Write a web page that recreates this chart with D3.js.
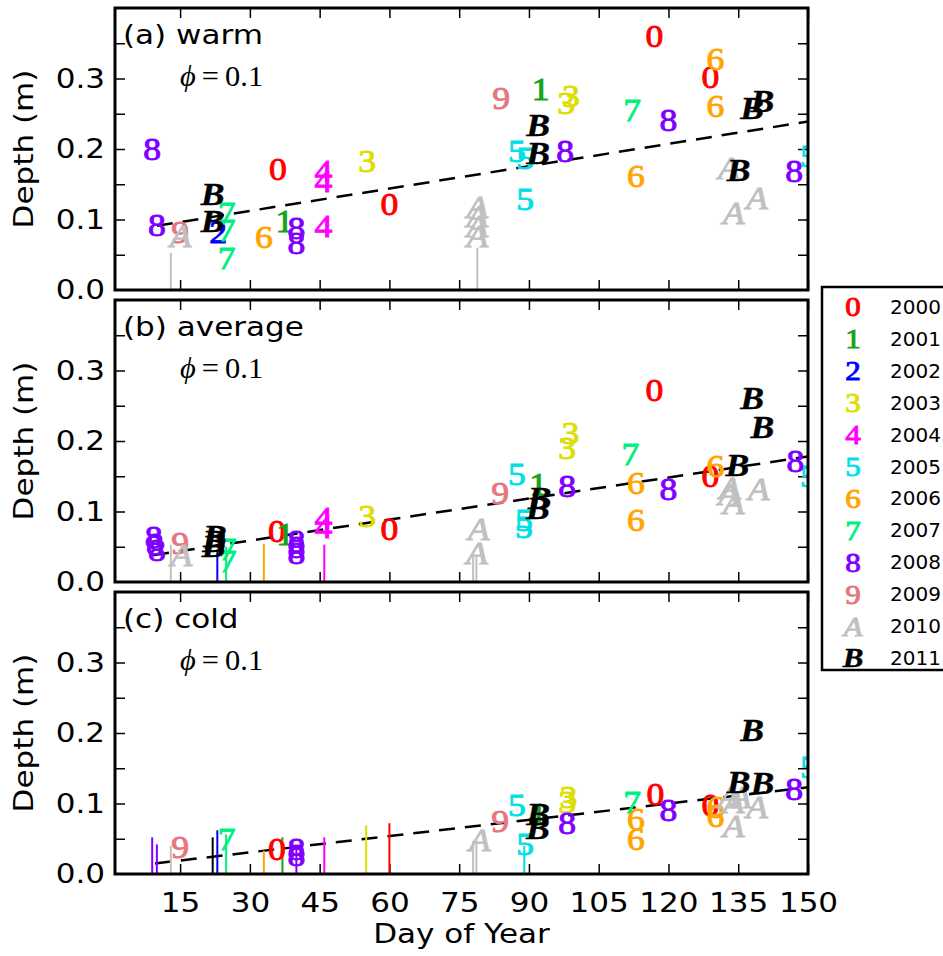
<!DOCTYPE html>
<html>
<head>
<meta charset="utf-8">
<script src="https://cdn.jsdelivr.net/npm/d3@7"></script>
<style>
  body { margin: 0; background: #fff; }
  svg { display: block; }
</style>
</head>
<body>
<div id="chart"></div>
<script>
// years, the symbol each year is drawn with, and its colour
const years = ["2000", "2001", "2002", "2003", "2004", "2005", "2006", "2007", "2008", "2009", "2010", "2011"];
const symbols = ["0", "1", "2", "3", "4", "5", "6", "7", "8", "9", "A", "B"];
const colors = ["#ff0000", "#17a317", "#0000ff", "#dede00", "#ff00ff", "#00e0e6",
  "#ffa500", "#00f07f", "#8000ff", "#e57780", "#c0c0c0", "#000000"];

const dayTicks = [15, 30, 45, 60, 75, 90, 105, 120, 135, 150];
const depthTicks = [0, 0.1, 0.2, 0.3];
const panelNames = ["(a) warm", "(b) average", "(c) cold"];
const phiValue = "0.1";

// [day of year, depth (m), year index]
const warmPoints = [
  [9, 0.200, 8], [10, 0.092, 8], [15, 0.081, 9], [15.1, 0.076, 10],
  [22, 0.135, 11], [22, 0.097, 11], [23.2, 0.081, 2],
  [25, 0.109, 7], [25, 0.085, 7], [25, 0.045, 7], [33, 0.075, 6],
  [37.4, 0.097, 1], [40, 0.088, 8], [40, 0.066, 8], [36, 0.171, 0],
  [45.8, 0.168, 4], [45.8, 0.154, 4], [45.8, 0.090, 4], [55.2, 0.183, 3], [60, 0.121, 0],
  [78.9, 0.117, 10], [78.9, 0.104, 10], [78.9, 0.090, 10], [78.9, 0.076, 10],
  [84, 0.272, 9], [92.5, 0.284, 1], [98, 0.265, 3], [99, 0.274, 3],
  [92, 0.233, 11], [92, 0.194, 11], [87.4, 0.197, 5], [89.2, 0.187, 5], [89.2, 0.128, 5],
  [97.8, 0.197, 8], [112.2, 0.254, 7], [120, 0.240, 8], [113, 0.161, 6],
  [117, 0.360, 0], [130.1, 0.327, 6], [129, 0.301, 0], [130.1, 0.261, 6],
  [138, 0.258, 11], [140.2, 0.268, 11], [135.1, 0.170, 11],
  [133, 0.173, 10], [134, 0.109, 10], [139, 0.130, 10], [147, 0.168, 8], [150.2, 0.190, 5]
];
const averagePoints = [
  [9.3, 0.063, 8], [9.6, 0.053, 8], [10, 0.045, 8], [15, 0.055, 9], [15.3, 0.038, 10],
  [22.5, 0.064, 11], [22.3, 0.058, 11], [22.2, 0.051, 11], [25.2, 0.046, 7], [25.2, 0.029, 7],
  [35.8, 0.072, 0], [37.6, 0.067, 1], [40, 0.058, 8], [40, 0.049, 8], [40, 0.041, 8],
  [45.8, 0.090, 4], [45.8, 0.077, 4], [55.2, 0.093, 3], [60, 0.074, 0],
  [79.2, 0.074, 10], [78.8, 0.041, 10], [83.8, 0.126, 9], [87.4, 0.152, 5],
  [92, 0.138, 1], [92.3, 0.119, 11], [91.9, 0.105, 11], [88.9, 0.088, 5], [88.9, 0.077, 5],
  [98.9, 0.211, 3], [98.2, 0.190, 3], [98.2, 0.136, 8], [111.8, 0.181, 7],
  [113, 0.140, 6], [113, 0.088, 6], [117, 0.271, 0], [120, 0.131, 8],
  [129, 0.150, 0], [130.1, 0.164, 6], [134.8, 0.166, 11], [138, 0.261, 11], [140.2, 0.219, 11],
  [133, 0.124, 10], [133.2, 0.133, 10], [134, 0.112, 10], [139.4, 0.131, 10],
  [147.3, 0.171, 8], [150.2, 0.150, 5]
];
const coldPoints = [
  [15, 0.037, 9], [25, 0.049, 7], [35.8, 0.035, 0], [40, 0.035, 8], [40, 0.026, 8],
  [79.4, 0.048, 10], [83.8, 0.075, 9], [87.4, 0.097, 5], [89.2, 0.042, 5],
  [92, 0.085, 1], [92, 0.085, 11], [91.9, 0.064, 11], [98.5, 0.109, 3], [98.2, 0.102, 3],
  [98.2, 0.071, 8], [112.2, 0.101, 7], [117.2, 0.113, 0], [113, 0.078, 6], [113, 0.049, 6],
  [120, 0.090, 8], [129, 0.097, 0], [130.1, 0.094, 6], [130.1, 0.082, 6],
  [133, 0.108, 10], [134, 0.101, 10], [134, 0.068, 10], [139, 0.094, 10], [135.5, 0.108, 10],
  [135.1, 0.130, 11], [138, 0.203, 11], [140.2, 0.128, 11], [147, 0.120, 8], [150.2, 0.151, 5]
];

// vertical stems from zero: [day, top depth, year index]
const warmStems = [[13, 0.053, 10], [78.9, 0.06, 10]];
const averageStems = [
  [13, 0.053, 10], [23, 0.045, 2], [24.9, 0.05, 7], [33, 0.054, 6], [46, 0.053, 4],
  [78, 0.036, 10], [78.7, 0.036, 10]
];
const coldStems = [
  [9, 0.052, 8], [10, 0.042, 8], [13, 0.040, 10], [22, 0.052, 11], [23, 0.062, 2],
  [24.9, 0.056, 7], [33, 0.033, 6], [37, 0.052, 1], [40, 0.040, 8], [46, 0.052, 4],
  [55, 0.069, 3], [60, 0.072, 0], [78, 0.047, 10], [78.7, 0.047, 10], [89, 0.040, 5]
];

// dashed fit line end points: [day, depth]
const warmFit = [[10, 0.091], [150, 0.239]];
const averageFit = [[9.2, 0.038], [150, 0.178]];
const coldFit = [[9.6, 0.015], [150, 0.123]];

const panels = [
  { name: panelNames[0], points: warmPoints, stems: warmStems, fit: warmFit },
  { name: panelNames[1], points: averagePoints, stems: averageStems, fit: averageFit },
  { name: panelNames[2], points: coldPoints, stems: coldStems, fit: coldFit }
];

const width = 943;
const height = 956;
const left = 115, right = 808;
const panelTops = [8, 300, 592];
const panelHeight = 282;
const SX = 1.15; // glyphs in the original are a bit wide
const sans = "'DejaVu Sans', sans-serif";
const serif = "'Liberation Serif', 'DejaVu Serif', serif";

const svg = d3.select("#chart").append("svg")
  .attr("width", width)
  .attr("height", height);

const x = d3.scaleLinear().domain([1, 150]).range([left, right]);

function symbolStyle(sel, size) {
  sel.attr("font-family", serif)
    .attr("font-size", size)
    .attr("font-style", (d) => (d >= 10 ? "italic" : "normal"))
    .attr("font-weight", (d) => (d === 11 ? "bold" : "normal"))
    .attr("fill", (d) => colors[d])
    .attr("stroke", (d) => colors[d])
    .attr("stroke-width", (d) => (d === 11 ? 0.4 : 0.9))
    .attr("text-anchor", "middle")
    .attr("dy", "0.34em")
    .text((d) => symbols[d]);
}

panels.forEach(function (p, i) {
  const top = panelTops[i];
  const bottom = top + panelHeight;
  const y = d3.scaleLinear().domain([0, 0.4]).range([bottom, top]);
  const g = svg.append("g");

  const clipId = "clip" + i;
  svg.append("clipPath").attr("id", clipId)
    .append("rect")
    .attr("x", left).attr("y", top)
    .attr("width", right - left).attr("height", panelHeight);

  // ticks, all pointing inward
  const xb = d3.axisBottom(x).tickValues(dayTicks).tickSize(-10).tickSizeOuter(0).tickPadding(19);
  if (i < 2) xb.tickFormat("");
  g.append("g").attr("transform", `translate(0,${bottom})`).call(xb);
  g.append("g").attr("transform", `translate(0,${top})`)
    .call(d3.axisTop(x).tickValues(dayTicks).tickSize(-10).tickSizeOuter(0).tickFormat(""));

  const yTickVals = d3.range(0.05, 0.4, 0.05);
  g.append("g").attr("transform", `translate(${left},0)`)
    .call(d3.axisLeft(y).tickValues(yTickVals).tickSize(-10).tickSizeOuter(0).tickFormat(""));
  g.append("g").attr("transform", `translate(${right},0)`)
    .call(d3.axisRight(y).tickValues(yTickVals).tickSize(-10).tickSizeOuter(0).tickFormat(""));

  // y labels drawn separately so 0.0 sits on the frame
  const axLab = g.append("g").attr("transform", `translate(${left},0)`)
    .call(d3.axisLeft(y).tickValues(depthTicks).tickSize(0).tickPadding(10 / SX).tickFormat(d3.format(".1f")));
  axLab.select(".domain").remove();

  g.selectAll(".domain").remove();
  g.selectAll(".tick line").attr("stroke", "#000").attr("stroke-width", 1.5);
  g.selectAll(".tick text")
    .attr("font-family", sans)
    .attr("font-size", 27)
    .attr("fill", "#000")
    .attr("transform", `scale(${SX},1)`);

  // fit line
  const plot = g.append("g").attr("clip-path", `url(#${clipId})`);
  plot.append("line")
    .attr("x1", x(p.fit[0][0])).attr("y1", y(p.fit[0][1]))
    .attr("x2", x(p.fit[1][0])).attr("y2", y(p.fit[1][1]))
    .attr("stroke", "#000")
    .attr("stroke-width", 2.5)
    .attr("stroke-dasharray", "16,10");

  plot.selectAll(".stem")
    .data(p.stems)
    .enter()
    .append("line")
    .attr("class", "stem")
    .attr("x1", (d) => x(d[0])).attr("x2", (d) => x(d[0]))
    .attr("y1", y(0)).attr("y2", (d) => y(d[1]))
    .attr("stroke", (d) => colors[d[2]])
    .attr("stroke-width", 2);

  const sorted = p.points.slice().sort((a, b) => a[2] - b[2]);
  plot.selectAll(".mark")
    .data(sorted)
    .enter()
    .append("text")
    .attr("class", "mark")
    .attr("transform", (d) => `translate(${x(d[0])},${y(d[1])}) scale(${SX},1)`)
    .datum((d) => d[2])
    .call(symbolStyle, 31);

  // frame
  g.append("rect")
    .attr("x", left).attr("y", top)
    .attr("width", right - left).attr("height", panelHeight)
    .attr("fill", "none")
    .attr("stroke", "#000")
    .attr("stroke-width", 3);

  // panel title and phi
  g.append("text")
    .attr("transform", `translate(123,${top + 36}) scale(${SX},1)`)
    .attr("font-family", sans)
    .attr("font-size", 27)
    .text(p.name);

  const phi = g.append("text")
    .attr("transform", `translate(180,${top + 78}) scale(1.05,1)`)
    .attr("font-family", serif)
    .attr("font-size", 29);
  phi.append("tspan").attr("font-style", "italic").text("\u03d5");
  phi.append("tspan").text("\u2009=\u2009" + phiValue);

  // y axis title
  svg.append("text")
    .attr("transform", `translate(33,${(top + bottom) / 2}) rotate(-90) scale(${SX},1)`)
    .attr("text-anchor", "middle")
    .attr("font-family", sans)
    .attr("font-size", 27)
    .text("Depth (m)");
});

svg.append("text")
  .attr("transform", `translate(${(left + right) / 2},943) scale(${SX},1)`)
  .attr("text-anchor", "middle")
  .attr("font-family", sans)
  .attr("font-size", 27)
  .text("Day of Year");

// legend
const legend = svg.append("g");
legend.append("rect")
  .attr("x", 822).attr("y", 287)
  .attr("width", 160).attr("height", 383)
  .attr("fill", "#fff")
  .attr("stroke", "#000")
  .attr("stroke-width", 2.5);

const rowY = d3.scalePoint().domain(d3.range(years.length)).range([306.7, 658.3]);
const rows = legend.selectAll(".row")
  .data(d3.range(years.length))
  .enter()
  .append("g")
  .attr("class", "row")
  .attr("transform", (d) => `translate(0,${rowY(d)})`);

rows.append("text")
  .attr("transform", `translate(853,0) scale(${SX},1)`)
  .call(symbolStyle, 27);

rows.append("text")
  .attr("x", 890)
  .attr("dy", "0.35em")
  .attr("font-family", sans)
  .attr("font-size", 20)
  .text((d) => years[d]);
</script>
</body>
</html>
